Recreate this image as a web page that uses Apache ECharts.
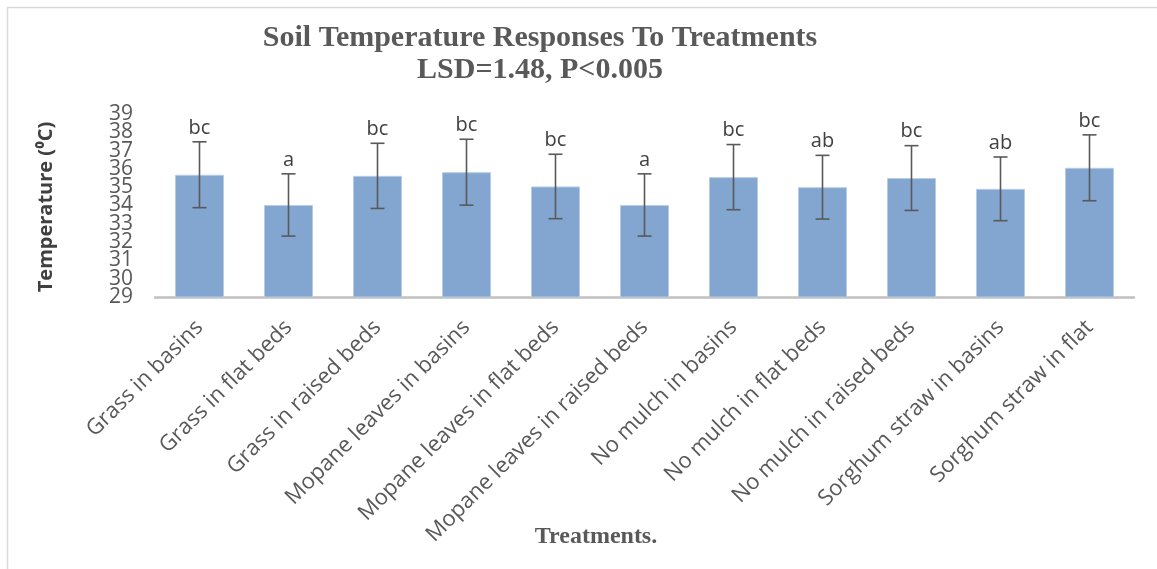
<!DOCTYPE html>
<html><head><meta charset="utf-8">
<script src="https://cdn.jsdelivr.net/npm/echarts@6/dist/echarts.min.js"></script>
<style>html,body{margin:0;padding:0;background:#fff}#c{width:1157px;height:569px}</style>
</head><body><div id="c"></div>
<script>
const categories = ['Grass in basins','Grass in flat beds','Grass in raised beds','Mopane leaves in basins','Mopane leaves in flat beds','Mopane leaves in raised beds','No mulch in basins','No mulch in flat beds','No mulch in raised beds','Sorghum straw in basins','Sorghum straw in flat'];
const means = [35.68, 34.03, 35.62, 35.82, 35.04, 34.03, 35.55, 35.00, 35.50, 34.91, 36.06];
const errors = [1.80, 1.70, 1.78, 1.80, 1.76, 1.70, 1.78, 1.74, 1.77, 1.74, 1.80];
const letters = ['bc','a','bc','bc','bc','a','bc','ab','bc','ab','bc'];
const yMin = 29, yMax = 39, yStep = 1;
const titleLines = ['Soil Temperature Responses To Treatments', 'LSD=1.48, P<0.005'];
const yTitle = 'Temperature (\u2070C)';
const xTitle = 'Treatments.';

const errData = means.map((m, i) => [i, m - errors[i], m + errors[i]]);
const yLabelStyle = {fontSize: 21, lineHeight: 10, color: '#595959', fontFamily: 'Open Sans', margin: 22, hideOverlap: false};
function makeYAxis(parity, showEnds) {
  return {
    type: 'value', min: yMin, max: yMax, interval: yStep, position: 'left', offset: 0,
    axisLine: {show: false}, axisTick: {show: false}, splitLine: {show: false},
    axisLabel: Object.assign({}, yLabelStyle, {
      showMinLabel: showEnds, showMaxLabel: showEnds,
      formatter: v => (Math.round(v - yMin) % 2 === parity ? String(v) : '')
    })
  };
}
const chart = echarts.init(document.getElementById('c'));
chart.setOption({
  animation: false,
  backgroundColor: '#fff',
  grid: {left: 155, right: 23, top: 114, bottom: 272, containLabel: false},
  xAxis: {
    type: 'category', data: categories,
    axisLine: {lineStyle: {color: '#c0c0c0', width: 2.5}},
    axisTick: {show: false},
    axisLabel: {interval: 0, rotate: 45, fontSize: 22, color: '#595959', fontFamily: 'Open Sans', margin: 27}
  },
  yAxis: [makeYAxis(0, true), makeYAxis(1, false)],
  series: [
    {type: 'bar', data: means, barWidth: 49, yAxisIndex: 0,
     itemStyle: {color: '#82a6d0', borderColor: '#b8cce4', borderWidth: 1}},
    {type: 'custom', data: errData, z: 10, yAxisIndex: 0,
     renderItem: function (params, api) {
       const x = api.value(0);
       const lo = api.coord([x, api.value(1)]);
       const hi = api.coord([x, api.value(2)]);
       const hw = 7;
       const ls = {stroke: '#595959', lineWidth: 1.6};
       return {type: 'group', children: [
         {type: 'line', shape: {x1: lo[0], y1: lo[1], x2: hi[0], y2: hi[1]}, style: ls},
         {type: 'line', shape: {x1: lo[0]-hw, y1: lo[1], x2: lo[0]+hw, y2: lo[1]}, style: ls},
         {type: 'line', shape: {x1: hi[0]-hw, y1: hi[1], x2: hi[0]+hw, y2: hi[1]}, style: ls},
         {type: 'text', x: hi[0], y: hi[1] - 4,
          style: {text: letters[params.dataIndex], align: 'center', verticalAlign: 'bottom',
                  fontSize: 20, fontFamily: 'Open Sans', fill: '#404040'}}
       ]};
     }}
  ],
  graphic: [
    {type: 'rect', shape: {x: 7.5, y: 7.5, width: 1300, height: 1300}, style: {fill: 'none', stroke: '#d9d9d9', lineWidth: 1.5}, silent: true},
    {type: 'text', x: 540, y: 38, style: {text: titleLines[0], align: 'center', verticalAlign: 'middle', fontSize: 30, fontWeight: 'bold', fontFamily: 'Liberation Serif', fill: '#595959'}},
    {type: 'text', x: 540, y: 70, style: {text: titleLines[1], align: 'center', verticalAlign: 'middle', fontSize: 30, fontWeight: 'bold', fontFamily: 'Liberation Serif', fill: '#595959'}},
    {type: 'text', x: 46, y: 207, rotation: Math.PI / 2, style: {text: yTitle, align: 'center', verticalAlign: 'middle', fontSize: 20, fontWeight: 'bold', fontFamily: 'Open Sans', fill: '#404040'}},
    {type: 'text', x: 596, y: 537, style: {text: xTitle, align: 'center', verticalAlign: 'middle', fontSize: 24, fontWeight: 'bold', fontFamily: 'Liberation Serif', fill: '#595959'}}
  ]
});
</script></body></html>
